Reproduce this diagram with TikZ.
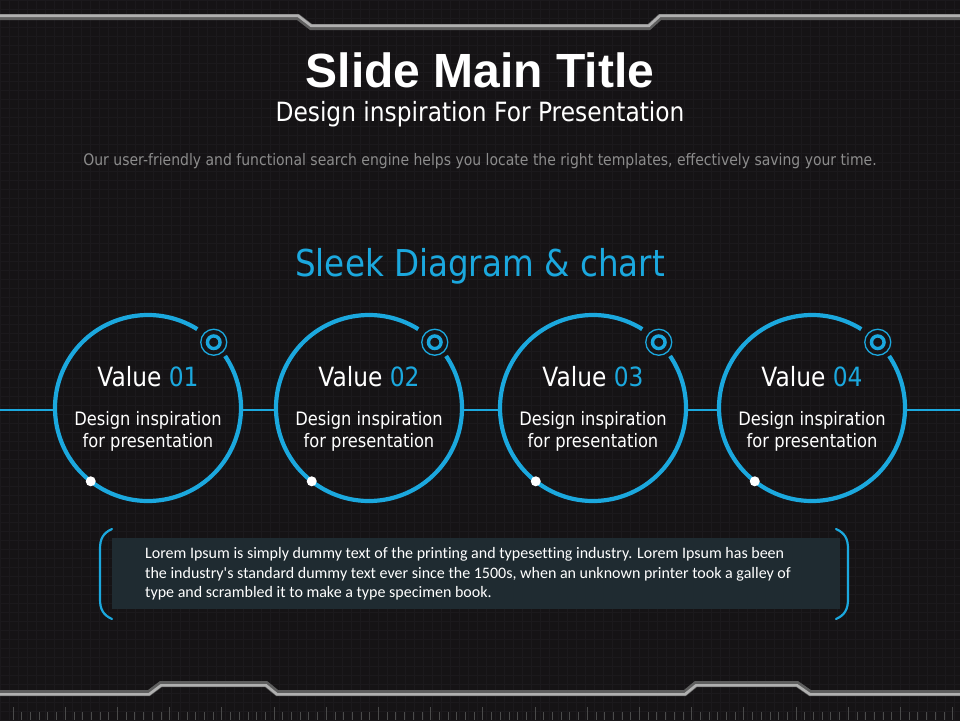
\documentclass[tikz,border=0pt]{standalone}
\usepackage{fontspec}
\setmainfont{DejaVu Sans}
\newfontfamily\tah[FakeStretch=0.88]{DejaVu Sans}
\newfontfamily\arialf{Liberation Sans}
\newfontfamily\calf[Ligatures=NoCommon]{Carlito}
\usetikzlibrary{calc}
\definecolor{bgc}{HTML}{151315}
\definecolor{gridc}{HTML}{1B191C}
\definecolor{cyanc}{HTML}{1BA8DE}
\definecolor{descc}{HTML}{8C8C8C}
\definecolor{boxc}{HTML}{1F2B31}
\definecolor{framedark}{HTML}{5E5E5E}
\definecolor{framelight}{HTML}{B0B0B0}
\definecolor{tickc}{HTML}{4A4A4A}
\begin{document}
\begin{tikzpicture}[x=1pt,y=-1pt,
  ringarc/.style={draw=cyanc, line width=4.2pt},
  hline/.style={draw=cyanc, line width=1.4pt},
  valtxt/.style={text=white, font=\tah\fontsize{26.5}{30}\selectfont, inner sep=0pt},
  subtxt/.style={text=white, font=\tah\fontsize{18.5}{22}\selectfont, align=center, inner sep=0pt},
  bracketc/.style={draw=cyanc, line width=2.2pt, line cap=round},
  framed/.style={draw=framedark, line width=6pt, line join=miter},
  framel/.style={draw=framelight, line width=2.6pt, line join=miter},
  tickline/.style={draw=tickc, line width=0.8pt}]
\useasboundingbox (0,0) rectangle (960,720);
\fill[bgc] (0,0) rectangle (960,720);
\draw[gridc, line width=0.4pt, step=9pt] (0,0) grid (960,720);

% top frame
\draw[framed] (0,17) -- (298,17) -- (311,27) -- (649,27) -- (660,17) -- (960,17);
\draw[framel, yshift=1.3pt] (0,17) -- (298,17) -- (311,27) -- (649,27) -- (660,17) -- (960,17);
% bottom frame
\draw[framed] (0,693) -- (149,693) -- (161,684) -- (266,684) -- (277,693) -- (685,693) -- (696,684) -- (797,684) -- (810,693) -- (960,693);
\draw[framel, yshift=-1.3pt] (0,693) -- (149,693) -- (161,684) -- (266,684) -- (277,693) -- (685,693) -- (696,684) -- (797,684) -- (810,693) -- (960,693);
% ticks
\foreach \i in {0,...,109} { \draw[tickline] ({13+8.7*\i},712) -- ({13+8.7*\i},720); }
\foreach \j in {0,...,18} { \draw[tickline] ({13+52.2*\j},707) -- ({13+52.2*\j},720); }

% titles
\node[font=\arialf\bfseries\fontsize{48}{50}\selectfont, text=white] (title) at (480,70) {Slide Main Title};
\node[font=\tah\fontsize{26.5}{30}\selectfont, text=white] (subtitle) at (480,114) {Design inspiration For Presentation};
\node[font=\tah\fontsize{15.9}{18}\selectfont, text=descc] (desc) at (480,161) {Our user-friendly and functional search engine helps you locate the right templates, effectively saving your time.};
\node[font=\tah\fontsize{37}{40}\selectfont, text=cyanc] (sleek) at (480,266) {Sleek Diagram \& chart};

% circles
\coordinate (hl) at (0,410);
\coordinate (hr) at (960,410);
\foreach \n/\x/\v in {1/148/01, 2/369/02, 3/593/03, 4/812/04} {
  \node[circle, minimum size=186pt, inner sep=0pt] (c\n) at (\x,408) {};
  \draw[ringarc] ($(c\n.center)+(-58:93)$) arc[start angle=-58, end angle=-394, radius=93];
  \node[circle, draw=cyanc, line width=1.3pt, minimum size=26pt, inner sep=0pt] (r\n) at ($(c\n.center)+(-45:93)$) {};
  \draw[cyanc, line width=3.4pt] (r\n.center) circle[radius=6.3];
  \node[circle, fill=white, minimum size=10pt, inner sep=0pt] (d\n) at ($(c\n.center)+(-232:93)$) {};
  \node[valtxt] (v\n) at ($(c\n.center)+(0,-31)$) {Value \textcolor{cyanc}{\v}};
  \node[subtxt] (s\n) at ($(c\n.center)+(0,23)$) {Design inspiration\\for presentation};
}
\draw[hline] (hl) -- (c1.west |- hl);
\draw[hline] (c1.east |- hl) -- (c2.west |- hl);
\draw[hline] (c2.east |- hl) -- (c3.west |- hl);
\draw[hline] (c3.east |- hl) -- (c4.west |- hl);
\draw[hline] (c4.east |- hl) -- (hr);

% text box
\node[fill=boxc, minimum width=728pt, minimum height=71pt, inner sep=0pt] (box) at (476,573.5) {};
\node[anchor=west, align=left, text=white, font=\calf\fontsize{16}{19.5}\selectfont, inner sep=0pt] (boxtext) at (145,574) {Lorem Ipsum is simply dummy text of the printing and typesetting industry. Lorem Ipsum has been\\the industry's standard dummy text ever since the 1500s, when an unknown printer took a galley of\\type and scrambled it to make a type specimen book.};
\draw[bracketc] (112,529) .. controls (103,533) and (100,539) .. (100,549) -- (100,599) .. controls (100,609) and (103,615) .. (112,619);
\draw[bracketc] (836,529) .. controls (845,533) and (848,539) .. (848,549) -- (848,599) .. controls (848,609) and (845,615) .. (836,619);
\end{tikzpicture}
\end{document}
